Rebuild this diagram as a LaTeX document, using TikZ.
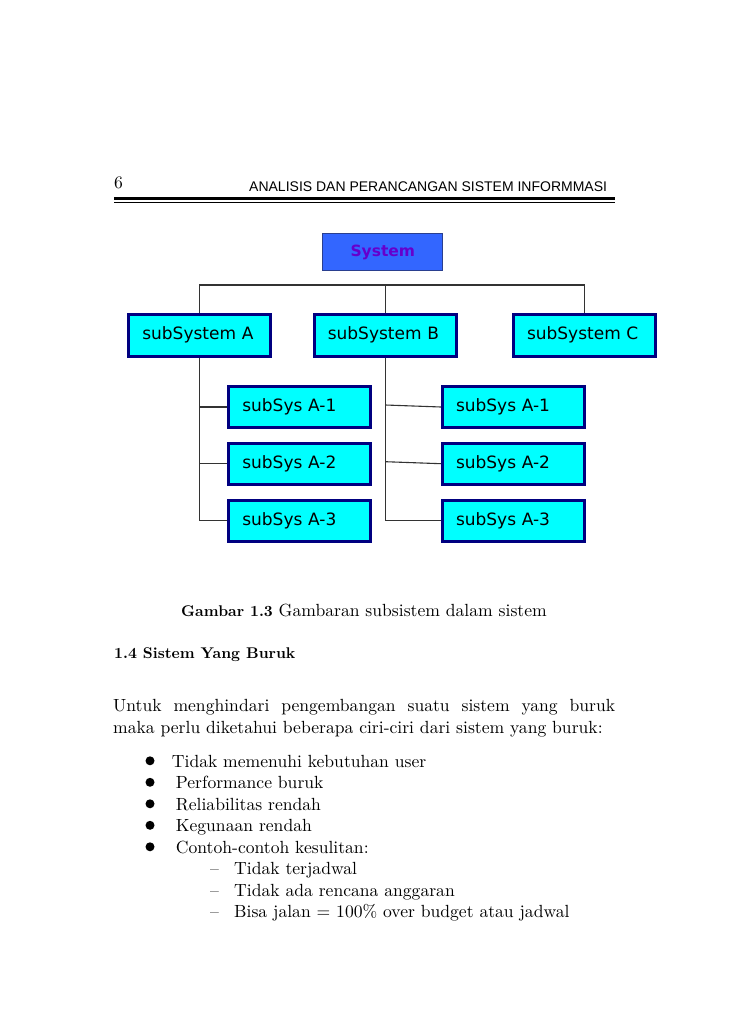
\documentclass[tikz,border=0pt]{standalone}
\usepackage{fontspec}
\setmainfont{lmroman10-regular.otf}[BoldFont=lmroman10-bold.otf, ItalicFont=lmroman10-italic.otf]
\setsansfont{DejaVu Sans}
\newfontfamily\headfont{Liberation Sans}
\usetikzlibrary{positioning}

\definecolor{boxcyan}{HTML}{00FFFF}
\definecolor{boxnavy}{HTML}{000080}
\definecolor{sysblue}{HTML}{3366FF}
\definecolor{sysedge}{HTML}{2A3F8F}
\definecolor{syspurple}{HTML}{6600CC}
\definecolor{linegray}{HTML}{333333}

\begin{document}
\begin{tikzpicture}[x=1pt, y=-1pt,
    sysbox/.style={rectangle, draw=sysedge, fill=sysblue, line width=1pt, minimum width=120pt, minimum height=37pt, font=\sffamily\bfseries\fontsize{15.5}{18}\selectfont, text=syspurple},
    subbox/.style={rectangle, draw=boxnavy, fill=boxcyan, line width=3pt, minimum width=142pt, minimum height=42pt, text width=115pt, align=left, inner xsep=13.5pt, text height=12.4pt, text depth=3.6pt, font=\sffamily\fontsize{17}{20}\selectfont},
    leafbox/.style={subbox, minimum height=41pt},
    conn/.style={draw=linegray, line width=1.1pt},
    body/.style={anchor=base west, inner sep=0pt, font=\fontsize{17.6}{21.5}\selectfont},
    dot/.style={circle, fill=black, inner sep=0pt, minimum size=9pt}
    ]
    \fill[white] (0,0) rectangle (728,1030);
    \useasboundingbox (0,0) rectangle (728,1030);

    % Running head
    \node[body] (pagenum) at (114,188.5) {6};
    \node[anchor=base west, inner sep=0pt, font=\headfont\fontsize{14}{16}\selectfont] (runhead) at (249,191.7) {ANALISIS DAN PERANCANGAN SISTEM INFORMMASI};
    \draw[line width=3.6pt] (114,198.5) -- (615,198.5);
    \draw[line width=1pt] (114,202.8) -- (615,202.8);

    % Top level
    \node[sysbox] (sys) at (382.8,252.2) {System};

    % Subsystems
    \node[subbox] (subA) at (199.8,335.5) {subSystem A};
    \node[subbox] (subB) at (385.3,335.5) {subSystem B};
    \node[subbox] (subC) at (584.5,335.2) {subSystem C};

    \coordinate (bus) at (0,285);
    \draw[conn] (subA.north) -- (subA.north |- bus) -- (subC.north |- bus) -- (subC.north);
    \draw[conn] (subB.north |- bus) -- (subB.north);

    % Children of A
    \node[leafbox] (a1) at (299.8,407) {subSys A-1};
    \node[leafbox] (a2) at (299.8,463.7) {subSys A-2};
    \node[leafbox] (a3) at (299.8,520.8) {subSys A-3};

    \draw[conn] (subA.south) |- (a3.west);
    \draw[conn] (subA.south |- a1.west) -- (a1.west);
    \draw[conn] (subA.south |- a2.west) -- (a2.west);

    % Children of B
    \node[leafbox] (b1) at (513.5,407) {subSys A-1};
    \node[leafbox] (b2) at (513.5,463.7) {subSys A-2};
    \node[leafbox] (b3) at (513.5,520.8) {subSys A-3};

    \draw[conn] (subB.south) |- (b3.west);
    \draw[conn] (subB.south |- b1.west) ++(0,-2) -- (b1.west);
    \draw[conn] (subB.south |- b2.west) ++(0,-2) -- (b2.west);

    % Caption and text
    \node[body, anchor=base] (caption) at (364,616.7) {{\bfseries\fontsize{15.5}{20}\selectfont Gambar 1.3} Gambaran subsistem dalam sistem};
    \node[body, font=\bfseries\fontsize{15.5}{20}\selectfont] (sechead) at (114,658) {1.4 Sistem Yang Buruk};
    \node[body] (para1) at (113,711) {\makebox[502pt][s]{Untuk menghindari pengembangan suatu sistem yang buruk}};
    \node[body] (para2) at (113,733) {maka perlu diketahui beberapa ciri-ciri dari sistem yang buruk:};

    % Bullets
    \node[dot] (dot1) at (150,760.8) {};
    \node[body] (item1) at (171.7,767.3) {Tidak memenuhi kebutuhan user};
    \node[dot] (dot2) at (150,782.3) {};
    \node[body] (item2) at (175.7,788.8) {Performance buruk};
    \node[dot] (dot3) at (150,803.8) {};
    \node[body] (item3) at (175.7,810.3) {Reliabilitas rendah};
    \node[dot] (dot4) at (150,825.3) {};
    \node[body] (item4) at (175.7,831.8) {Kegunaan rendah};
    \node[dot] (dot5) at (150,846.8) {};
    \node[body] (item5) at (175.7,853.3) {Contoh-contoh kesulitan:};

    % Sub items
    \node[body] (dash1) at (210,874.8) {--};
    \node[body] (sub1) at (234,874.8) {Tidak terjadwal};
    \node[body] (dash2) at (210,896.3) {--};
    \node[body] (sub2) at (234,896.3) {Tidak ada rencana anggaran};
    \node[body] (dash3) at (210,917.8) {--};
    \node[body] (sub3) at (234,917.8) {Bisa jalan = 100\% over budget atau jadwal};
\end{tikzpicture}
\end{document}
